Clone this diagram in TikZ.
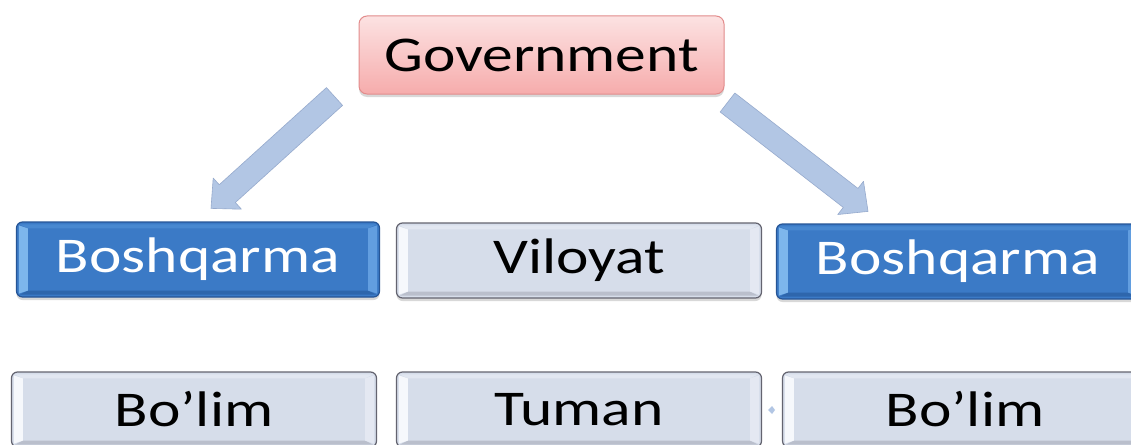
\documentclass[tikz,border=0pt]{standalone}
\usepackage{fontspec}
\setmainfont{Carlito}[FakeStretch=1.23]
\usetikzlibrary{calc,shadows}

\definecolor{govtop}{RGB}{252,226,226}
\definecolor{govbot}{RGB}{246,172,172}
\definecolor{govline}{RGB}{226,140,140}
\definecolor{bluefill}{RGB}{59,122,198}
\definecolor{blueline}{RGB}{38,85,150}
\definecolor{blueleft}{RGB}{125,182,236}
\definecolor{blueright}{RGB}{98,158,224}
\definecolor{bluetop}{RGB}{72,136,208}
\definecolor{bluebot}{RGB}{46,102,172}
\definecolor{greyfill}{RGB}{214,221,234}
\definecolor{greyline}{RGB}{100,100,112}
\definecolor{greyleft}{RGB}{246,248,252}
\definecolor{greyright}{RGB}{228,232,242}
\definecolor{greytop}{RGB}{226,231,241}
\definecolor{greybot}{RGB}{186,191,204}
\definecolor{arrowfill}{RGB}{178,198,228}
\definecolor{arrowline}{RGB}{150,170,205}

\tikzset{
  boxshadow/.style={drop shadow={shadow xshift=0pt,shadow yshift=-3pt,opacity=0.25,fill=black!60}},
  govbox/.style={draw=govline, line width=1pt, rounded corners=8pt, top color=govtop, bottom color=govbot,
    minimum width=365pt, minimum height=78pt, inner sep=0pt, boxshadow},
  bluebox/.style={draw=blueline, line width=1.2pt, fill=bluefill, text=white, rounded corners=6pt,
    minimum width=363pt, minimum height=75pt, inner sep=0pt, boxshadow},
  greybox/.style={draw=greyline, line width=1.2pt, fill=greyfill, rounded corners=6pt,
    minimum width=365pt, minimum height=75pt, inner sep=0pt, boxshadow},
  arrowbody/.style={fill=arrowfill, draw=arrowline, line width=0.6pt, line join=round}
}

% bevel round the inner face: (node)[left][right][top][bottom]
\def\bevel(#1)[#2][#3][#4][#5]{%
  \fill[#4] ($(#1.north west)+(4,3)$) -- ($(#1.north east)+(-4,3)$) -- ($(#1.north east)+(-12,7)$) -- ($(#1.north west)+(12,7)$) -- cycle;
  \fill[#5] ($(#1.south west)+(4,-3)$) -- ($(#1.south east)+(-4,-3)$) -- ($(#1.south east)+(-12,-7)$) -- ($(#1.south west)+(12,-7)$) -- cycle;
  \fill[#2] ($(#1.north west)+(3,4)$) -- ($(#1.north west)+(12,7)$) -- ($(#1.south west)+(12,-7)$) -- ($(#1.south west)+(3,-4)$) -- cycle;
  \fill[#3] ($(#1.north east)+(-3,4)$) -- ($(#1.north east)+(-12,7)$) -- ($(#1.south east)+(-12,-7)$) -- ($(#1.south east)+(-3,-4)$) -- cycle;
}
% flat block arrow from (tail) to (tip)
\def\blockarrow(#1)(#2){%
  \coordinate (ah) at ($(#2)!22pt!(#1)$);
  \filldraw[arrowbody] ($(#1)!12pt!90:(#2)$) -- ($(ah)!12pt!90:(#2)$) -- ($(ah)!21pt!90:(#2)$) -- (#2)
    -- ($(ah)!21pt!-90:(#2)$) -- ($(ah)!12pt!-90:(#2)$) -- ($(#1)!12pt!-90:(#2)$) -- cycle;
}

\begin{document}
\begin{tikzpicture}[x=1pt,y=-1pt,font=\fontsize{50}{60}\selectfont]
  \useasboundingbox (0,0) rectangle (1131,444);
  \clip (0,0) rectangle (1131,444);
  \fill[white] (0,0) rectangle (1131,444);

  % top
  \node[govbox] (gov) at (541.5,55) {Government};

  % second row
  \node[bluebox] (bosh1) at (198,259.5) {Boshqarma};
  \node[greybox] (viloyat) at (579,260.5) {Viloyat};
  \node[bluebox] (bosh2) at (958,261.5) {Boshqarma};

  % third row
  \node[greybox] (bolim1) at (194,409.5) {Bo’lim};
  \node[greybox] (tuman) at (579,409.5) {Tuman};
  \node[greybox] (bolim2) at (965,409.5) {Bo’lim};

  \bevel(bosh1)[blueleft][blueright][bluetop][bluebot]
  \bevel(bosh2)[blueleft][blueright][bluetop][bluebot]
  \bevel(viloyat)[greyleft][greyright][greytop][greybot]
  \bevel(bolim1)[greyleft][greyright][greytop][greybot]
  \bevel(tuman)[greyleft][greyright][greytop][greybot]
  \bevel(bolim2)[greyleft][greyright][greytop][greybot]

  % arrows
  \coordinate (lt) at ($(gov.south west)+(-24,2)$);
  \coordinate (lh) at ($(bosh1.north)+(13,-13)$);
  \coordinate (rt) at ($(gov.south east)+(3,8)$);
  \coordinate (rh) at ($(bosh2.north)+(-90,-12)$);
  \blockarrow(lt)(lh)
  \blockarrow(rt)(rh)

  \fill[arrowfill] (768,410) -- (772,406) -- (775,410) -- (772,414) -- cycle;
\end{tikzpicture}
\end{document}
